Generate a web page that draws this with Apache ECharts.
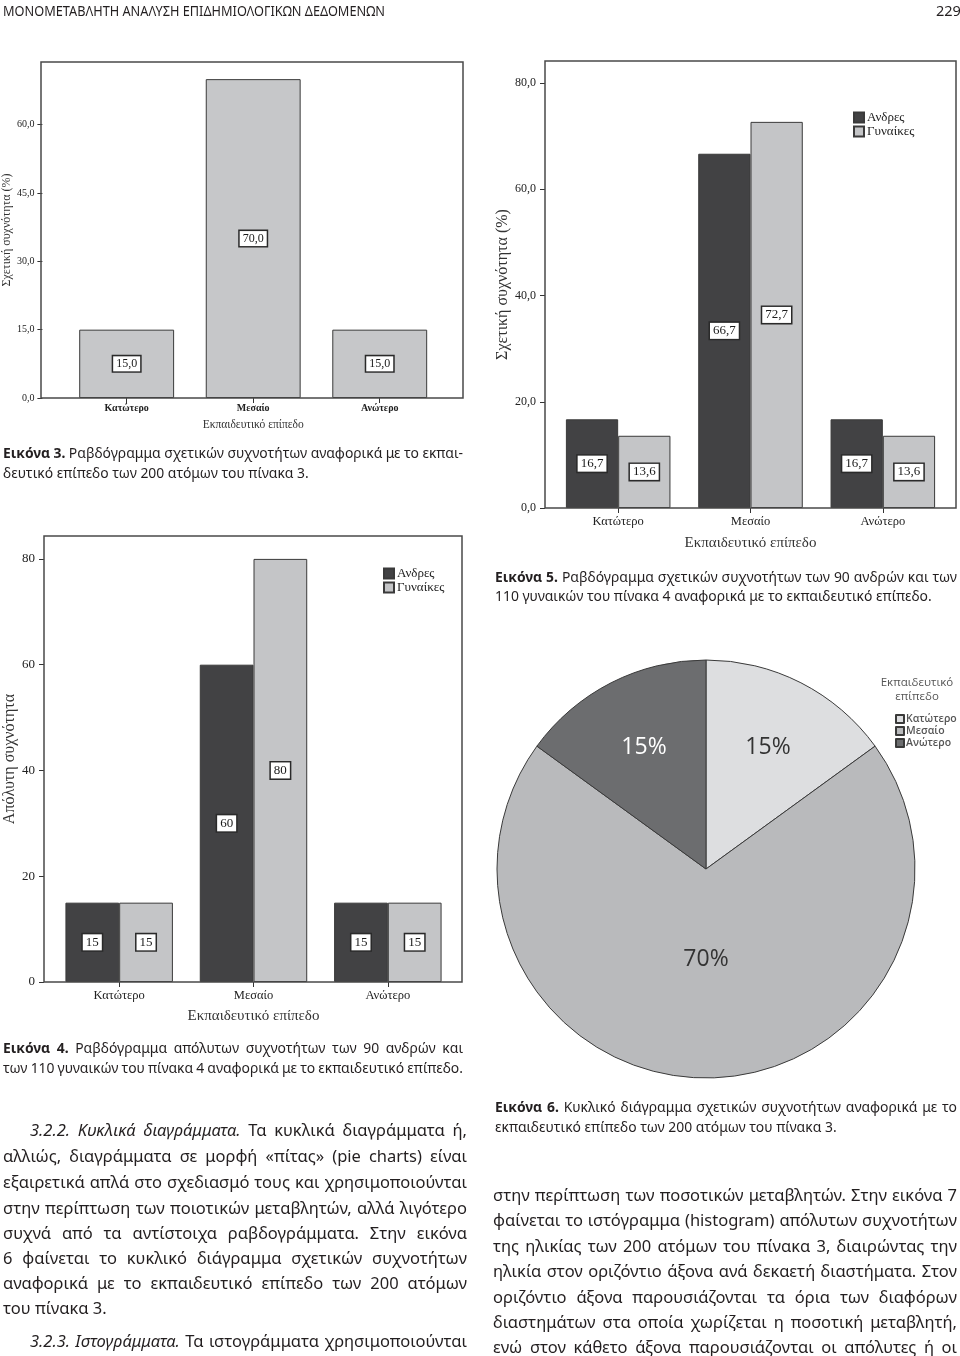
<!DOCTYPE html>
<html><head><meta charset="utf-8">
<script src="https://cdn.jsdelivr.net/npm/echarts@6/dist/echarts.min.js"></script>
<style>
html,body{margin:0;padding:0;background:#fff;}
#page{position:relative;width:960px;height:1356px;overflow:hidden;background:#fff;}
#chart{position:absolute;left:0;top:0;width:960px;height:1356px;}
#text{position:absolute;left:0;top:0;width:960px;height:1356px;pointer-events:none;}
.ln{position:absolute;white-space:nowrap;font-family:'Noto Sans','Open Sans',sans-serif;color:#231f20;}
.ln span{display:inline-block;white-space:nowrap;}
</style></head><body>
<div id="page"><div id="chart"></div><div id="text"></div></div>
<script>
// ---------------- data ----------------
const levels = ['Κατώτερο', 'Μεσαίο', 'Ανώτερο'];
const sexes = ['Ανδρες', 'Γυναίκες'];
const relTotal = [15.0, 70.0, 15.0];          // Εικόνα 3
const relMen = [16.7, 66.7, 16.7];            // Εικόνα 5
const relWomen = [13.6, 72.7, 13.6];
const absMen = [15, 60, 15];                  // Εικόνα 4
const absWomen = [15, 80, 15];
const pieShares = [15, 70, 15];               // Εικόνα 6
const ticksRel3 = [0, 15, 30, 45, 60];
const ticksRel5 = [0, 20, 40, 60, 80];
const ticksAbs4 = [0, 20, 40, 60, 80];

// ---------------- page text ----------------
const CAP = 13.9, BODY = 16.5;
const textLines = [
  {x:3, y:10, w:382, size:14.5, mode:'scale', html:'ΜΟΝΟΜΕΤΑΒΛΗΤΗ ΑΝΑΛΥΣΗ ΕΠΙΔΗΜΙΟΛΟΓΙΚΩΝ ΔΕΔΟΜΕΝΩΝ'},
  {x:936, y:10, size:14.5, html:'229'},
  {x:3, y:453, w:460, size:CAP, html:'<b>Εικόνα 3.</b> Ραβδόγραμμα σχετικών συχνοτήτων αναφορικά με το εκπαι-'},
  {x:3, y:473, size:CAP, html:'δευτικό επίπεδο των 200 ατόμων του πίνακα 3.'},
  {x:495, y:577, w:462, size:CAP, html:'<b>Εικόνα 5.</b> Ραβδόγραμμα σχετικών συχνοτήτων των 90 ανδρών και των'},
  {x:495, y:596, size:CAP, html:'110 γυναικών του πίνακα 4 αναφορικά με το εκπαιδευτικό επίπεδο.'},
  {x:3, y:1048, w:460, size:CAP, html:'<b>Εικόνα 4.</b> Ραβδόγραμμα απόλυτων συχνοτήτων των 90 ανδρών και'},
  {x:3, y:1068, w:460, size:CAP, html:'των 110 γυναικών του πίνακα 4 αναφορικά με το εκπαιδευτικό επίπεδο.'},
  {x:495, y:1107, w:462, size:CAP, html:'<b>Εικόνα 6.</b> Κυκλικό διάγραμμα σχετικών συχνοτήτων αναφορικά με το'},
  {x:495, y:1127, size:CAP, html:'εκπαιδευτικό επίπεδο των 200 ατόμων του πίνακα 3.'},
  {x:30, y:1129, w:437, size:BODY, html:'<i>3.2.2. Κυκλικά διαγράμματα.</i> Τα κυκλικά διαγράμματα ή,'},
  {x:3, y:1155, w:464, size:BODY, html:'αλλιώς, διαγράμματα σε μορφή «πίτας» (pie charts) είναι'},
  {x:3, y:1181, w:464, size:BODY, html:'εξαιρετικά απλά στο σχεδιασμό τους και χρησιμοποιούνται'},
  {x:3, y:1207, w:464, size:BODY, html:'στην περίπτωση των ποιοτικών μεταβλητών, αλλά λιγότερο'},
  {x:3, y:1232, w:464, size:BODY, html:'συχνά από τα αντίστοιχα ραβδογράμματα. Στην εικόνα'},
  {x:3, y:1257, w:464, size:BODY, html:'6 φαίνεται το κυκλικό διάγραμμα σχετικών συχνοτήτων'},
  {x:3, y:1282, w:464, size:BODY, html:'αναφορικά με το εκπαιδευτικό επίπεδο των 200 ατόμων'},
  {x:3, y:1307, size:BODY, html:'του πίνακα 3.'},
  {x:30, y:1340, w:437, size:BODY, html:'<i>3.2.3. Ιστογράμματα.</i> Τα ιστογράμματα χρησιμοποιούνται'},
  {x:493, y:1194, w:464, size:BODY, html:'στην περίπτωση των ποσοτικών μεταβλητών. Στην εικόνα 7'},
  {x:493, y:1219, w:464, size:BODY, html:'φαίνεται το ιστόγραμμα (histogram) απόλυτων συχνοτήτων'},
  {x:493, y:1245, w:464, size:BODY, html:'της ηλικίας των 200 ατόμων του πίνακα 3, διαιρώντας την'},
  {x:493, y:1270, w:464, size:BODY, html:'ηλικία στον οριζόντιο άξονα ανά δεκαετή διαστήματα. Στον'},
  {x:493, y:1296, w:464, size:BODY, html:'οριζόντιο άξονα παρουσιάζονται τα όρια των διαφόρων'},
  {x:493, y:1321, w:464, size:BODY, html:'διαστημάτων στα οποία χωρίζεται η ποσοτική μεταβλητή,'},
  {x:493, y:1346, w:464, size:BODY, html:'ενώ στον κάθετο άξονα παρουσιάζονται οι απόλυτες ή οι'}
];

function layoutText() {
  const host = document.getElementById('text');
  host.innerHTML = '';
  textLines.forEach(t => {
    const d = document.createElement('div');
    d.className = 'ln';
    d.style.left = t.x + 'px';
    d.style.fontSize = t.size + 'px';
    const lh = Math.round(t.size * 1.3);
    d.style.lineHeight = lh + 'px';
    d.style.top = (t.y - lh / 2) + 'px';
    const s = document.createElement('span');
    s.innerHTML = t.html;
    d.appendChild(s);
    host.appendChild(d);
    if (t.w) {
      const nat = s.getBoundingClientRect().width;
      const spaces = (s.textContent.match(/ /g) || []).length;
      let ws = 0, sc = 1;
      if (t.mode === 'scale') {
        sc = t.w / nat;
      } else {
        ws = spaces ? (t.w - nat) / spaces : 0;
        if (ws < -1.2) { ws = -1.2; sc = t.w / (nat + ws * spaces); }
      }
      s.style.wordSpacing = ws + 'px';
      if (sc !== 1) { s.style.transform = 'scaleX(' + sc + ')'; s.style.transformOrigin = '0 50%'; }
    }
  });
}
layoutText();
if (document.fonts && document.fonts.ready) document.fonts.ready.then(layoutText);

// ---------------- chart ----------------
const serif = "'Liberation Serif','DejaVu Serif',serif";
const sans = "'Open Sans','Noto Sans',sans-serif";
const DARK = '#424244', LIGHT = '#c4c5c7', EDGE = '#3a3a3a';
const fmtComma = v => Number(v).toFixed(1).replace('.', ',');
const fmtInt = v => String(v);

function boxLabel(size, fmt) {
  return {show: true, position: 'inside', formatter: p => fmt(p.value),
    backgroundColor: '#fff', borderColor: '#2a2a2a', borderWidth: 1.5,
    padding: [2, 3, 1, 3], color: '#1a1a1a', fontFamily: serif, fontSize: size};
}
function xcat(gi, fs, margin, nfs, ngap, bold) {
  return {type: 'category', gridIndex: gi, data: levels, boundaryGap: true,
    axisLine: {show: false},
    axisTick: {show: true, alignWithLabel: true, length: 5, lineStyle: {color: '#333', width: 1}},
    axisLabel: {fontFamily: serif, fontSize: fs, color: '#222', margin: margin, fontWeight: bold ? 'bold' : 'normal'},
    splitLine: {show: false},
    name: 'Εκπαιδευτικό επίπεδο', nameLocation: 'middle', nameGap: ngap,
    nameTextStyle: {fontFamily: serif, fontSize: nfs, color: '#333'}};
}
function yval(gi, max, ticks, offset, fmt, fs, margin, name, nfs, ngap) {
  return {type: 'value', gridIndex: gi, min: 0, max: max, offset: offset,
    axisLine: {show: false},
    axisTick: {show: true, length: 5, customValues: ticks, lineStyle: {color: '#333', width: 1}},
    axisLabel: {customValues: ticks, formatter: fmt, fontFamily: serif, fontSize: fs, color: '#222', margin: margin},
    splitLine: {show: false},
    name: name, nameLocation: 'middle', nameRotate: 90, nameGap: ngap,
    nameTextStyle: {fontFamily: serif, fontSize: nfs, color: '#333'}};
}
const barEdge = {borderColor: EDGE, borderWidth: 1};
const pieColors = ['#dddee0', '#b9babc', '#6c6d6f'];
const pieCenter = [706, 869];

const option = {
  animation: false,
  backgroundColor: '#fff',
  grid: [
    {left: 62, top: 62, width: 381, height: 336},
    {left: 552, top: 61, width: 397, height: 447},
    {left: 52, top: 536, width: 403, height: 446}
  ],
  xAxis: [
    xcat(0, 10, 5, 11.5, 21, true),
    xcat(1, 12.5, 7, 15, 28, false),
    xcat(2, 12.5, 7, 15, 27, false)
  ],
  yAxis: [
    yval(0, 73.76, ticksRel3, 21, fmtComma, 10, 8, 'Σχετική συχνότητα (%)', 12, 25),
    yval(1, 84.16, ticksRel5, 7, fmtComma, 12, 9, 'Σχετική συχνότητα (%)', 16, 33),
    yval(2, 84.33, ticksAbs4, 8, fmtInt, 13, 9, 'Απόλυτη συχνότητα', 16, 24)
  ],
  legend: [
    {data: sexes, orient: 'vertical', left: 848, top: 106, itemWidth: 10, itemHeight: 10, itemGap: 1,
      icon: 'rect', selectedMode: false,
      textStyle: {fontFamily: serif, fontSize: 13, color: '#222', lineHeight: 13, padding: [0, 0, 0, -2]}},
    {data: sexes, orient: 'vertical', left: 378, top: 562, itemWidth: 10, itemHeight: 10, itemGap: 1,
      icon: 'rect', selectedMode: false,
      textStyle: {fontFamily: serif, fontSize: 13, color: '#222', lineHeight: 13, padding: [0, 0, 0, -2]}},
    {data: levels, orient: 'vertical', left: 890, top: 708, itemWidth: 8, itemHeight: 8, itemGap: 0,
      icon: 'rect', selectedMode: false,
      textStyle: {fontFamily: sans, fontSize: 10.5, fontWeight: 600, color: '#555', lineHeight: 12, padding: [0, 0, 0, -3]}}
  ],
  graphic: [
    {type: 'rect', z: 100, shape: {x: 41, y: 62, width: 422, height: 336}, style: {fill: 'none', stroke: '#4a4a4a', lineWidth: 1.5}},
    {type: 'rect', z: 100, shape: {x: 545, y: 61, width: 411, height: 447}, style: {fill: 'none', stroke: '#4a4a4a', lineWidth: 1.5}},
    {type: 'rect', z: 100, shape: {x: 44, y: 536, width: 418, height: 446}, style: {fill: 'none', stroke: '#4a4a4a', lineWidth: 1.5}},
    {type: 'text', x: 917, y: 676, z: 100, style: {text: 'Εκπαιδευτικό\nεπίπεδο', textAlign: 'center',
      fill: '#555', font: "11.5px 'Open Sans','Noto Sans',sans-serif", lineHeight: 14}}
  ],
  series: [
    {type: 'bar', xAxisIndex: 0, yAxisIndex: 0, data: relTotal, barCategoryGap: '25%',
      itemStyle: Object.assign({color: '#c6c7c9'}, barEdge), label: boxLabel(12, fmtComma)},
    {type: 'bar', name: sexes[0], xAxisIndex: 1, yAxisIndex: 1, data: relMen, barGap: '0%', barCategoryGap: '21%',
      itemStyle: Object.assign({color: DARK}, barEdge), label: boxLabel(13, fmtComma)},
    {type: 'bar', name: sexes[1], xAxisIndex: 1, yAxisIndex: 1, data: relWomen, barGap: '0%', barCategoryGap: '21%',
      itemStyle: Object.assign({color: LIGHT}, barEdge), label: boxLabel(13, fmtComma)},
    {type: 'bar', name: sexes[0], xAxisIndex: 2, yAxisIndex: 2, data: absMen, barGap: '0%', barCategoryGap: '20%',
      itemStyle: Object.assign({color: DARK}, barEdge), label: boxLabel(13, fmtInt)},
    {type: 'bar', name: sexes[1], xAxisIndex: 2, yAxisIndex: 2, data: absWomen, barGap: '0%', barCategoryGap: '20%',
      itemStyle: Object.assign({color: LIGHT}, barEdge), label: boxLabel(13, fmtInt)},
    {type: 'pie', center: pieCenter, radius: 209, startAngle: 90, clockwise: true,
      itemStyle: {borderColor: '#3a3a3a', borderWidth: 1},
      label: {show: true, position: 'inside', formatter: '{d}%', fontSize: 23, fontFamily: sans, color: '#333'},
      labelLine: {show: false},
      labelLayout: function (p) {
        const r = p.labelRect;
        const cx = r.x + r.width / 2, cy = r.y + r.height / 2;
        const k = pieShares[p.dataIndex] < 50 ? 1.27 : 0.84;
        return {x: pieCenter[0] + (cx - pieCenter[0]) * k, y: pieCenter[1] + (cy - pieCenter[1]) * k};
      },
      data: levels.map((n, i) => ({name: n, value: pieShares[i], itemStyle: {color: pieColors[i]},
        label: {color: i === 2 ? '#ffffff' : '#333333'}}))}
  ]
};
const chart = echarts.init(document.getElementById('chart'));
chart.setOption(option);
</script>
</body></html>
